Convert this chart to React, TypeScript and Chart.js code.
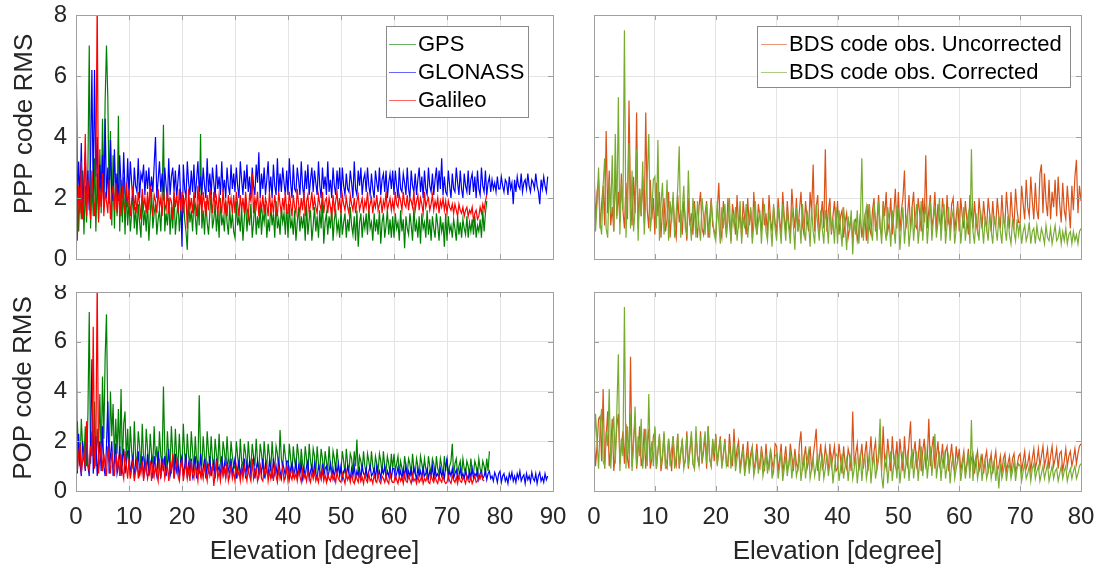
import React, { useEffect, useRef } from "react";
import { Chart, registerables } from "chart.js";

Chart.register(...registerables);

// Elevation sampling of every series below [degree]; value i sits at elevation i * STEP.
const STEP = 0.25;

// ---------- PPP code RMS (top left) ----------
// GPS, 0 .. 77.5 deg
const pppGps = [
  1.4,2.6,0.9,2.2,1.3, 2.9,0.8,2.4,1.2,3.0, 7.0,1.0,2.5,1.4,3.3, 0.9,2.8,1.3,3.6,1.5, 4.6,2.2,5.2,7.0,5.3, 2.0,4.2,1.1,3.4,1.0, 2.8,1.4,4.7,0.9,2.6, 1.2,2.7,0.8,2.3,1.1,
  1.9,0.9,1.5,2.2,1.0, 1.7,0.8,1.8,1.2,0.7, 2.1,1.1,1.6,0.9,1.9, 0.6,1.4,2.3,1.0,1.5, 1.8,0.8,1.3,1.6,0.9, 2.0,4.4,0.9,1.5,1.1, 2.0,0.8,1.7,1.0,2.2, 0.8,1.4,1.9,0.9,1.6,
  1.0,2.1,1.3,0.9,0.3, 1.9,1.2,1.6,0.9,2.0, 1.4,0.8,1.8,1.1,4.1, 1.0,1.6,0.8,1.9,1.2, 0.8,1.5,2.2,1.0,1.3, 1.8,0.9,1.6,0.7,2.0, 1.1,1.4,0.9,1.9,1.2, 0.8,1.7,1.0,1.5,0.9,
  0.7,1.9,1.1,1.4,0.9, 1.7,0.6,1.3,2.0,0.9, 1.5,1.1,1.8,0.7,1.2, 1.9,0.8,1.4,1.0,1.7, 0.8,1.5,1.2,1.8,0.7, 1.3,0.9,1.8,1.1,1.5, 0.7,1.9,1.0,1.3,0.8, 1.7,1.2,1.5,0.8,1.8,
  0.7,1.8,1.0,1.3,0.8, 1.6,0.6,1.2,1.7,0.9, 1.4,1.0,1.5,0.6,1.8, 0.8,1.3,1.6,0.6,1.1, 1.7,0.9,1.4,0.7,1.6, 1.0,1.9,0.5,1.2,1.5, 0.8,1.4,1.0,1.7,0.6, 1.3,1.6,0.9,1.2,0.7,
  1.6,0.8,1.2,1.5,0.7, 1.3,0.9,1.7,1.1,0.8, 1.4,0.6,1.6,0.4,1.2, 1.5,0.7,1.3,1.0,1.5, 0.8,1.7,1.0,1.2,0.6, 1.5,0.9,1.3,0.8,1.6, 0.5,1.2,1.5,0.7,1.1, 1.6,0.8,1.3,0.7,1.4,
  0.7,1.5,1.0,1.2,0.6, 1.6,0.9,1.3,0.35,1.4, 1.0,0.8,1.5,1.1,0.6, 1.7,0.9,1.2,0.7,1.4, 0.5,1.5,1.0,1.2,0.7, 1.6,0.8,1.3,0.6,1.4, 1.0,0.7,1.5,1.1,0.6, 1.4,0.9,1.2,0.4,1.5,
  0.6,1.4,0.9,1.1,0.7, 1.3,1.0,0.6,1.4,0.8, 1.2,0.7,1.3,1.0,0.8, 1.4,0.7,1.2,0.9,1.3, 0.8,1.4,0.7,1.1,0.9, 1.3,0.7,1.6,0.9,1.5, 1.9,
];
// GLONASS, 0 .. 89 deg
const pppGlonass = [
  8.0,1.6,3.2,2.0,3.8, 1.5,2.6,3.5,1.8,2.9, 1.6,3.3,6.2,2.0,6.2, 2.7,4.0,1.6,3.1,2.2, 3.4,1.7,4.6,2.0,3.0, 1.8,3.9,2.3,1.9,3.6, 2.1,2.8,1.9,3.4,2.4, 2.0,3.5,2.2,1.9,3.3,
  2.1,3.2,2.5,1.9,3.0, 2.4,2.2,3.3,2.0,2.8, 2.6,3.1,2.1,2.9,2.3, 3.0,2.1,2.7,2.2,3.1, 4.0,2.0,2.6,3.2,2.2, 2.8,2.1,3.0,2.4,1.9, 3.3,2.1,2.7,3.0,2.2, 2.9,2.0,2.6,3.1,2.0,
  0.4,3.1,2.3,2.0,3.2, 2.5,2.1,2.9,2.2,3.1, 2.0,2.6,3.2,2.2,2.7, 2.1,3.0,2.4,2.0,3.3, 2.2,2.8,2.1,3.0,2.5, 2.0,3.1,2.3,2.7,2.1, 3.2,2.2,2.6,2.0,3.0, 2.4,2.1,3.1,2.3,2.8,
  2.2,3.0,2.4,2.0,3.2, 2.6,2.1,2.9,2.3,3.1, 2.2,2.7,2.0,3.0,2.4, 2.1,3.1,2.5,3.5,2.0, 2.8,2.3,3.0,2.1,2.6, 3.2,2.2,2.7,2.0,3.1, 2.4,2.1,3.3,2.2,2.8, 2.2,3.0,2.5,2.1,2.9,
  2.1,3.3,2.5,2.0,3.1, 2.3,2.2,3.0,2.6,2.1, 3.2,2.4,2.0,2.9,2.3, 3.1,2.1,2.6,3.0,2.2, 2.9,2.5,2.1,3.2,2.4, 2.0,3.0,2.3,2.7,2.1, 3.2,2.2,2.6,2.0,3.0, 2.4,2.1,2.9,2.3,3.0,
  2.0,3.0,2.4,2.1,2.8, 2.3,2.2,2.9,2.5,2.0, 3.2,2.3,2.1,2.9,2.4, 3.0,2.1,2.6,2.8,2.2, 3.0,2.4,2.1,2.8,2.3, 2.0,2.9,2.5,2.2,3.0, 2.1,2.6,2.8,2.2,2.9, 2.0,2.5,2.8,2.3,2.9,
  2.1,2.9,2.4,2.0,3.0, 2.3,2.2,2.8,2.5,2.1, 3.0,2.3,2.0,2.9,2.4, 2.2,2.8,2.1,2.6,3.0, 2.2,2.7,2.0,2.9,2.3, 2.1,3.0,2.4,2.2,2.8, 2.1,2.6,3.0,2.2,2.9, 2.3,3.3,2.1,2.7,2.2,
  2.1,2.9,2.4,2.0,2.8, 2.3,2.2,3.0,2.5,2.1, 2.9,2.3,2.0,2.8,2.4, 2.2,2.9,2.1,2.6,2.8, 2.2,2.7,2.0,2.9,2.3, 2.1,3.0,2.4,2.2,2.9, 2.1,2.5,2.7,2.2,2.6, 2.3,2.5,2.2,2.7,2.3,
  2.3,2.7,2.4,2.2,2.6, 2.5,2.1,2.7,2.3,2.5, 1.8,2.6,2.2,2.7,2.4, 2.3,2.8,2.2,2.5,2.6, 2.3,2.8,2.4,2.2,2.6, 2.5,2.3,2.8,2.4,2.2, 1.8,2.6,2.3,2.7,2.4, 2.2,2.7,
];
// Galileo, 0 .. 77.5 deg
const pppGalileo = [
  7.5,0.6,2.4,1.5,3.2, 1.3,2.0,4.1,1.4,2.6, 1.8,1.3,2.9,2.1,1.4, 2.5,8.6,1.2,2.3,1.7, 2.8,1.4,2.2,1.9,1.5, 2.6,1.3,2.1,2.4,1.6, 2.5,1.5,2.0,2.3,1.4, 2.4,1.8,1.5,2.5,1.7,
  2.3,1.4,1.9,2.4,1.6, 2.1,1.5,2.2,1.8,1.3, 2.3,1.7,2.0,1.5,2.2, 1.6,2.4,1.8,1.4,2.1, 1.9,1.5,2.3,1.7,2.0, 1.4,2.2,1.8,1.6,2.3, 1.5,2.0,1.9,1.3,2.2, 1.7,2.1,1.5,2.3,1.6,
  2.2,1.5,1.9,2.1,1.0, 2.3,1.6,2.0,1.5,2.2, 1.8,1.4,2.4,1.7,2.0, 1.5,2.2,1.8,1.4,2.1, 1.6,2.3,1.9,1.5,2.2, 1.7,2.0,1.4,2.1,1.8, 1.5,2.3,1.6,1.9,1.4, 2.1,1.7,2.0,1.5,2.1,
  1.5,2.2,1.8,1.4,2.1, 1.6,2.0,1.5,2.2,1.7, 1.4,2.1,1.9,2.8,1.5, 2.0,1.7,2.2,1.4,1.9, 1.6,2.1,1.5,2.0,1.8, 1.4,2.2,1.6,1.9,1.5, 2.1,1.7,1.4,2.2,1.8, 1.5,2.0,1.6,2.2,1.5,
  1.5,2.2,1.8,1.4,2.1, 1.7,1.5,2.3,1.8,1.5, 2.0,1.6,2.2,1.4,1.9, 2.1,1.5,1.8,2.2,1.6, 2.0,1.7,1.5,2.1,1.8, 1.6,2.2,1.5,1.9,2.0, 1.5,2.0,1.7,1.4,2.1, 1.6,1.9,2.2,1.6,2.0,
  1.5,2.1,1.8,1.6,2.0, 1.7,1.5,2.1,1.8,1.6, 2.0,1.5,1.9,2.1,1.6, 1.8,2.0,1.5,1.9,1.7, 2.2,1.6,1.8,2.0,1.5, 1.9,1.7,2.1,1.6,1.8, 2.0,1.5,1.9,1.7,2.2, 1.6,1.8,2.0,1.6,1.9,
  1.6,2.2,1.8,1.7,2.1, 1.9,1.6,2.2,1.8,1.7, 2.1,1.6,2.0,1.9,1.7, 2.2,1.6,1.9,2.1,1.6, 2.0,1.8,1.5,2.2,1.7, 1.9,2.0,1.6,1.8,2.1, 1.6,1.9,1.7,2.0,1.5, 1.9,1.7,2.0,1.6,1.9,
  1.5,1.9,1.7,1.6,1.8, 1.5,1.8,1.6,1.4,1.8, 1.6,1.5,1.7,1.4,1.6, 1.7,1.4,1.6,1.5,1.7, 1.25,1.5,1.6,1.3,1.4, 1.7,1.5,1.8,1.6,1.9, 2.1,
];

// ---------- POP code RMS (bottom left) ----------
// GPS, 0 .. 78 deg
const popGps = [
  1.1,2.8,1.5,1.0,2.9, 1.8,1.2,2.6,1.0,3.1, 7.2,1.1,2.4,1.4,3.6, 1.0,2.5,1.6,3.9,1.2, 4.6,2.1,5.4,7.1,3.0, 1.2,4.0,2.2,3.5,1.1, 2.9,1.5,3.3,1.3,4.1, 1.0,2.7,3.2,1.2,2.5,
  1.0,2.6,1.6,0.9,2.8, 1.4,1.1,2.4,1.8,0.8, 2.7,1.3,1.0,2.5,1.7, 0.9,2.3,1.5,1.1,2.6, 1.2,1.8,0.9,2.4,1.4, 1.1,4.2,1.6,0.9,2.4, 1.3,1.0,2.6,1.5,0.9, 2.5,1.4,1.1,2.3,1.2,
  1.0,2.7,1.5,0.9,2.3, 1.4,1.0,2.4,1.6,0.8, 2.2,1.3,0.9,3.85,1.5, 1.0,2.2,1.4,0.9,2.4, 1.6,1.0,2.2,1.3,0.8, 2.1,1.5,1.0,2.3,1.2, 0.9,2.0,1.6,1.0,2.2, 1.3,0.9,2.0,1.4,1.0,
  0.9,2.0,1.4,0.8,2.1, 1.2,1.0,1.9,1.5,0.8, 2.0,1.3,0.9,1.9,1.4, 1.0,2.1,1.2,0.8,1.9, 1.5,0.9,2.0,1.3,1.0, 1.9,1.4,0.8,2.0,1.2, 0.9,1.8,1.5,0.8,2.45, 1.3,0.9,1.9,1.4,1.0,
  0.8,1.9,1.3,0.7,1.8, 1.2,0.9,1.9,1.4,0.7, 1.7,1.1,0.8,1.8,1.3, 0.7,1.9,1.2,0.8,1.7, 1.4,0.7,1.8,1.1,0.8, 1.7,1.3,0.7,1.6,1.2, 0.8,1.8,1.0,0.7,1.6, 1.3,0.8,1.7,1.1,0.7,
  0.8,1.6,1.2,0.7,1.7, 1.1,0.8,1.5,1.3,0.7, 1.6,1.0,2.07,0.7,1.4, 1.2,0.8,1.6,1.0,0.7, 1.5,1.2,0.8,1.6,1.0, 0.7,1.4,1.1,0.8,1.5, 1.2,0.7,1.6,1.0,0.8, 1.4,1.1,0.7,1.5,0.9,
  1.5,0.8,1.1,1.4,0.7, 1.2,0.9,0.6,1.4,1.0, 0.7,1.3,1.1,0.6,1.5, 0.9,0.7,1.3,1.0,0.6, 1.4,1.1,0.7,1.3,0.9, 0.6,1.4,1.0,0.7,1.3, 1.1,0.6,1.4,0.9,0.7, 1.3,1.0,0.6,1.4,0.8,
  1.3,0.7,1.0,1.2,1.9, 0.6,1.1,1.3,0.7,1.0, 1.2,0.6,1.3,0.9,0.7, 1.2,1.0,0.6,1.3,0.8, 0.7,1.2,1.0,0.6,1.3, 0.9,0.7,1.2,1.0,0.7, 1.3,0.8,1.6,
];
// GLONASS, 0 .. 89 deg
const popGlonass = [
  1.6,0.7,2.3,1.1,0.6, 2.0,1.4,0.8,2.4,1.0, 0.6,1.9,5.3,0.7,1.5, 2.2,0.6,1.3,2.0,0.8, 2.6,1.0,0.6,1.8,3.6, 0.7,1.4,2.0,0.6,1.2, 1.9,0.7,1.0,1.8,0.6, 1.3,1.7,0.7,1.1,1.6,
  1.6,0.6,1.1,1.4,0.5, 1.2,0.9,1.6,0.7,1.0, 1.4,0.5,1.2,0.8,1.5, 0.6,1.0,1.3,0.5,1.4, 0.9,0.6,1.6,1.0,0.5, 1.3,0.8,1.4,0.6,1.1, 1.7,0.6,0.9,1.3,0.5, 1.5,0.8,1.1,0.5,1.2,
  1.4,0.6,1.0,1.5,0.5, 1.1,0.8,1.3,0.6,1.0, 1.4,0.5,1.2,0.7,1.5, 0.6,0.9,1.3,0.5,1.1, 0.8,1.4,0.6,1.0,1.2, 0.5,1.3,0.8,1.0,0.6, 1.4,0.7,1.1,0.5,1.2, 0.9,0.6,1.3,0.7,1.0,
  1.3,0.5,0.9,1.2,0.6, 1.0,0.7,1.3,0.5,1.1, 0.8,1.2,0.6,1.0,1.3, 0.5,0.9,1.2,0.6,1.0, 0.7,1.3,0.5,1.1,0.8, 0.6,1.2,0.9,0.5,1.3, 0.7,1.0,0.6,1.2,0.8, 0.5,1.1,0.9,0.6,1.2,
  1.2,0.5,0.9,1.1,0.6, 0.8,1.2,0.5,1.0,0.7, 1.1,0.5,0.9,0.6,1.0, 1.2,0.5,0.8,1.0,0.6, 1.1,0.7,0.5,1.0,0.8, 0.5,1.1,0.6,0.9,1.0, 0.5,0.8,1.1,0.6,0.9, 0.5,1.0,0.7,1.1,0.6,
  1.0,0.5,0.8,0.9,0.6, 1.0,0.7,0.5,0.9,0.6, 1.0,0.5,0.8,0.6,0.9, 0.5,1.0,0.7,0.6,0.9, 0.5,0.8,1.0,0.6,0.7, 0.9,0.5,1.0,0.6,0.8, 0.5,0.9,0.7,1.0,0.5, 0.8,0.6,0.9,0.5,0.9,
  0.9,0.5,0.7,0.95,0.6, 0.8,0.5,0.9,0.6,1.0, 0.5,0.8,0.6,0.9,0.5, 0.95,0.7,0.5,0.9,0.6, 0.8,0.5,0.95,0.6,0.7, 0.9,0.5,0.8,0.6,1.0, 0.5,0.9,0.6,0.7,0.5, 0.9,0.6,0.8,0.5,1.0,
  1.3,0.5,0.8,0.6,0.9, 0.5,0.7,0.85,0.5,0.6, 0.9,0.55,0.7,0.5,0.85, 0.6,0.5,0.8,0.55,0.9, 0.5,0.7,0.6,0.85,0.45, 0.7,0.8,0.5,0.6,0.85, 0.45,0.7,0.8,0.5,0.6, 0.4,0.75,0.6,0.35,0.7,
  0.8,0.35,0.6,0.7,0.4, 0.55,0.3,0.7,0.5,0.75, 0.4,0.6,0.35,0.7,0.5, 0.8,0.4,0.55,0.65,0.3, 0.7,0.45,0.6,0.35,0.75, 0.5,0.4,0.7,0.3,0.6, 0.75,0.4,0.55,0.35,0.7, 0.45,0.6,
];
// Galileo, 0 .. 77 deg
const popGalileo = [
  8.6,0.8,1.5,1.9,0.7, 1.2,1.6,0.9,2.8,1.1, 0.8,1.8,1.4,6.6,0.9, 1.7,8.6,0.7,1.3,1.9, 0.8,1.5,1.0,0.6,1.8, 1.2,0.7,1.6,1.0,0.6, 1.5,0.9,1.3,0.6,1.5, 0.8,0.5,1.6,1.0,0.5,
  1.3,0.5,0.9,1.2,0.4, 0.8,1.3,0.5,1.0,0.7, 1.2,0.4,0.9,1.1,0.5, 0.8,1.2,0.4,1.0,0.6, 1.1,0.7,0.4,1.3,0.6, 0.9,1.2,0.5,0.8,1.0, 0.4,1.2,0.7,1.5,0.5, 0.9,1.2,0.6,0.4,1.1,
  1.2,0.4,0.8,1.1,0.5, 0.9,0.4,1.2,0.7,0.5, 1.0,0.8,0.4,1.1,0.6, 0.9,0.5,1.0,0.7,0.4, 1.1,0.6,0.8,1.0,0.2, 0.7,1.1,0.5,0.8,0.4, 1.0,0.6,0.9,0.5,1.1, 0.4,0.7,1.0,0.5,0.8,
  0.4,1.0,0.6,0.8,0.4, 0.9,0.5,1.0,0.7,0.4, 0.9,0.6,0.4,1.3,0.5, 0.8,0.9,0.4,0.7,1.0, 0.5,0.4,0.9,0.6,1.0, 0.4,0.8,0.5,0.9,0.4, 1.0,0.6,0.35,0.9,0.5, 0.7,0.95,0.4,0.6,0.9,
  0.4,0.9,0.6,0.45,0.85, 0.5,0.7,0.4,0.8,0.6, 0.35,0.85,0.5,0.7,0.4, 0.8,0.55,0.35,0.75,0.5, 0.8,0.4,0.6,0.35,0.75, 0.5,0.8,0.4,0.65,0.35, 0.7,0.5,0.4,0.75,0.45, 0.6,0.35,0.75,0.5,0.4,
  0.35,0.7,0.5,0.3,0.75, 0.45,0.6,0.35,0.7,0.4, 0.3,0.65,0.5,0.35,0.7, 0.4,0.55,0.3,0.65,0.45, 0.35,0.7,0.4,0.5,0.3, 0.65,0.45,0.35,0.7,0.4, 0.3,0.6,0.5,0.35,0.65, 0.4,0.3,0.7,0.45,0.35,
  0.35,0.65,0.45,0.3,0.6, 0.4,0.55,0.3,0.65,0.4, 0.35,0.6,0.45,0.3,0.65, 0.4,0.5,0.3,0.6,0.35, 0.45,0.65,0.3,0.5,0.4, 0.6,0.35,0.3,0.65,0.45, 0.35,0.6,0.4,0.3,0.6, 0.45,0.35,0.6,0.4,0.3,
  0.35,0.6,0.4,0.3,0.6, 0.45,0.35,0.55,0.3,0.6, 0.4,0.35,0.55,0.45,0.3, 0.6,0.4,0.35,0.55,0.3, 0.45,0.6,0.35,0.4,0.6, 0.5,0.7,0.45,0.4,
];

// ---------- BDS, PPP (top right), 0 .. 80 deg ----------
const pppBdsUncorrected = [
  3.1,1.2,2.2,2.6,1.0, 1.8,2.4,1.1,4.2,1.5, 2.9,1.1,1.7,0.9,3.0, 1.4,2.2,1.2,2.8,1.6, 1.0,2.5,1.3,5.2,1.9, 1.1,2.7,1.5,4.8,1.0, 2.3,1.4,2.7,1.2,4.8, 1.6,1.0,2.6,1.3,2.0,
  0.8,2.5,1.4,2.2,0.7, 1.6,2.0,0.9,1.3,2.2, 0.7,1.5,2.0,1.0,0.7, 2.1,1.2,1.6,0.8,1.9, 1.3,0.6,2.0,1.1,1.5, 0.8,1.9,1.2,0.7,1.7, 2.2,1.0,0.8,1.5,1.9, 0.7,1.3,2.0,1.1,0.9,
  0.8,1.6,2.5,1.0,0.7, 1.9,1.3,0.8,2.0,1.2, 0.6,1.8,1.4,0.8,2.1, 1.0,1.6,0.7,1.9,1.3, 0.8,2.0,1.1,1.6,0.7, 2.2,1.2,0.8,1.8,1.4, 0.9,2.0,1.1,1.5,0.8, 2.1,1.3,0.9,1.7,1.2,
  0.9,2.0,1.3,0.8,2.2, 1.4,0.9,1.9,1.2,0.8, 2.3,1.5,1.0,2.0,0.9, 1.6,2.2,1.1,0.8,1.9, 1.3,0.9,2.2,1.5,3.1, 0.9,1.7,2.1,0.8,1.3, 1.9,1.0,3.6,0.9,1.6, 2.0,0.8,1.4,1.9,1.0,
  1.9,0.8,1.4,1.6,0.7, 1.2,1.5,0.7,1.0,1.4, 0.6,1.2,1.3,0.6,0.9, 1.5,0.7,1.1,1.4,0.6, 1.8,1.0,0.8,1.6,2.0, 0.9,1.3,2.1,1.0,0.8, 1.9,1.4,2.2,0.9,1.2, 2.0,0.8,1.5,2.3,1.0,
  2.2,0.9,1.6,2.0,2.9, 1.0,1.4,2.1,0.9,1.7, 2.2,1.1,1.0,2.0,1.5, 0.9,2.0,1.2,3.4,1.0, 1.6,2.1,1.0,1.4,2.2, 0.9,1.8,1.3,1.0,2.0, 1.5,0.9,2.1,1.2,1.0, 1.8,2.0,0.9,1.4,1.9,
  0.9,2.0,1.4,1.0,1.9, 1.3,0.8,2.1,1.5,1.0, 1.9,1.2,0.9,2.0,1.4, 1.0,1.9,1.3,1.0,2.0, 1.5,0.9,1.9,1.2,1.1, 2.0,1.4,1.0,2.1,1.3, 1.1,2.2,1.5,1.0,2.2, 1.4,1.1,2.3,1.6,1.2,
  1.2,2.4,1.8,1.3,2.6, 1.7,1.4,2.7,1.9,1.3, 2.5,1.6,1.3,2.8,3.1, 1.5,2.8,1.9,1.4,2.6, 1.3,2.2,1.7,2.6,1.4, 2.7,1.8,1.2,2.5,1.6, 1.3,2.4,1.7,1.0,2.4, 1.6,2.7,3.25,1.5,2.4,
  1.9,
];
const pppBdsCorrected = [
  2.2,0.9,1.8,3.0,1.2, 0.8,2.4,3.3,1.0,0.7, 2.6,1.5,3.4,0.9,4.1, 1.3,5.3,0.8,2.5,1.6, 7.5,0.7,2.2,3.8,1.0, 2.9,0.9,1.6,3.6,0.6, 2.3,1.4,3.2,0.8,1.9, 2.7,4.1,0.9,1.5,2.6,
  2.7,1.0,3.9,0.6,1.8, 2.5,0.8,1.4,2.6,0.6, 1.9,1.2,2.2,0.7,1.5, 2.3,3.7,0.7,1.6,2.4, 1.0,0.8,2.9,1.3,0.6, 2.0,1.5,0.7,1.9,1.1, 0.6,2.0,1.4,0.8,1.8, 1.2,0.7,1.9,1.3,0.8,
  0.6,1.9,1.2,0.5,1.7, 1.0,1.8,0.7,1.3,2.0, 0.5,1.5,1.1,1.7,0.6, 1.2,1.9,0.5,1.4,1.0, 1.8,0.7,1.3,1.7,0.5, 1.1,1.9,0.8,1.2,1.6, 0.5,1.4,1.8,0.9,0.6, 1.6,1.1,0.4,1.8,1.0,
  0.6,1.7,1.1,0.5,1.8, 1.2,0.6,1.6,1.0,0.5, 1.7,1.1,0.3,1.7,0.9, 1.3,0.5,1.8,1.0,0.6, 1.6,1.2,0.4,1.7,0.9, 0.5,1.8,1.1,0.6,1.6, 1.0,0.5,1.6,1.2,0.5, 1.7,0.9,1.3,0.5,1.7,
  0.5,1.6,1.0,0.4,1.7, 1.1,0.3,1.4,0.9,1.6, 0.15,1.3,0.8,1.6,0.5, 1.2,3.3,0.6,1.4,1.7, 0.5,1.8,1.0,0.6,1.8, 1.3,0.6,1.9,1.1,0.5, 1.8,1.0,0.6,1.7,1.2, 0.4,1.6,1.0,0.5,1.7,
  1.6,0.3,1.1,1.7,0.5, 1.2,1.5,0.4,1.0,1.7, 0.6,1.3,1.8,0.5,1.1, 1.9,0.6,1.4,1.7,0.5, 1.2,1.9,0.6,1.3,1.7, 0.7,1.2,2.0,0.6,1.4, 1.8,0.5,1.1,1.7,0.6, 1.3,1.6,0.5,1.0,1.7,
  1.6,0.5,1.1,1.7,0.6, 1.2,1.5,0.5,3.6,0.9, 0.5,1.5,1.0,0.6,1.6, 1.1,0.5,1.4,1.0,0.6, 1.5,0.9,0.5,1.4,1.0, 0.6,1.4,0.9,0.5,1.5, 1.0,0.6,1.4,0.8,0.5, 1.3,0.9,0.6,1.3,0.8,
  1.2,0.5,0.9,1.1,0.6, 0.8,1.2,0.5,0.9,1.0, 0.5,1.1,0.7,0.6,1.0, 0.8,0.5,1.1,0.7,0.6, 1.0,0.5,0.8,1.1,0.6, 0.7,1.0,0.5,0.9,0.6, 1.0,0.5,0.8,0.9,0.5, 0.9,0.6,0.8,0.5,0.9,
  1.0,
];

// ---------- BDS, POP (bottom right), 0 .. 80 deg ----------
const popBdsUncorrected = [
  2.4,1.0,1.8,2.9,3.0, 1.2,4.1,0.9,2.2,3.2, 1.0,1.7,2.9,0.8,1.5, 2.6,3.1,1.1,1.8,2.4, 1.1,2.7,1.3,0.9,5.4, 1.0,2.1,2.8,0.9,1.6, 2.6,1.0,1.4,2.5,0.9, 1.9,2.5,0.9,1.3,2.2,
  2.4,0.9,1.6,2.2,0.8, 1.3,2.3,1.0,0.9,2.1, 1.5,0.8,2.2,1.2,1.0, 2.3,0.9,1.5,2.1,1.0, 1.2,2.4,0.9,1.6,2.2, 1.1,0.9,2.3,1.4,1.0, 2.4,1.1,1.6,2.2,0.9, 2.6,1.3,1.0,2.0,1.2,
  2.3,1.1,1.7,2.2,1.0, 1.5,2.1,1.1,1.0,2.3, 1.4,1.0,2.5,1.1,1.7, 2.0,0.9,1.4,1.9,0.8, 1.3,2.0,0.9,1.5,1.8, 0.8,1.2,1.9,1.0,0.9, 1.8,1.3,0.8,1.9,1.1, 0.9,1.7,1.2,0.8,1.9,
  1.8,0.8,1.3,1.9,0.7, 1.2,1.8,0.9,1.0,1.9, 1.4,0.8,1.7,1.1,0.9, 1.9,2.4,0.8,1.3,1.8, 0.9,1.2,1.8,0.8,1.4, 1.9,2.5,0.8,1.3,1.9, 0.9,1.1,1.8,1.3,0.8, 1.9,1.0,1.4,1.8,0.8,
  0.9,1.9,1.3,0.7,1.8, 1.1,0.9,1.7,1.4,0.8, 3.2,1.0,1.5,1.9,0.8, 1.3,1.9,0.9,1.5,2.0, 0.8,1.4,2.2,1.0,1.6, 2.0,0.9,1.3,2.1,0.8, 2.6,1.2,0.9,2.1,1.4, 0.8,2.2,1.3,1.0,2.0,
  0.9,2.1,1.4,0.8,2.2, 1.2,1.0,2.0,2.8,0.9, 1.5,2.0,1.0,1.3,2.1, 0.8,1.6,2.1,1.0,1.3, 2.9,1.0,1.7,2.2,0.9, 1.4,2.0,1.0,1.2,1.9, 0.9,1.6,1.8,0.8,1.3, 1.9,1.0,0.8,1.8,1.2,
  1.7,0.8,1.2,1.6,0.7, 1.1,1.7,0.8,1.3,1.5, 0.7,1.2,1.6,0.8,1.0, 1.5,0.7,1.3,1.6,0.8, 1.1,1.5,0.7,1.2,1.6, 0.8,1.0,1.4,0.7,1.3, 1.5,0.8,1.1,1.4,0.7, 1.3,1.5,0.8,1.0,1.4,
  1.5,0.8,1.2,1.6,0.9, 1.1,1.5,0.8,1.3,1.7, 0.9,1.2,1.7,1.0,1.4, 1.8,1.0,1.3,1.7,0.9, 1.4,1.8,1.0,1.3,1.7, 0.9,1.5,1.6,0.8,1.2, 1.7,1.0,1.4,1.6,1.0, 1.3,1.7,1.1,1.5,1.8,
  1.9,
];
const popBdsCorrected = [
  1.5,3.1,2.0,0.9,2.6, 3.3,1.2,1.0,2.4,1.8, 4.1,0.9,2.2,3.0,1.1, 3.2,5.5,0.8,2.1,1.4, 7.4,0.9,2.6,1.5,3.1, 0.8,1.9,3.4,1.0,2.2, 1.4,2.9,0.9,1.7,2.5, 1.0,3.9,1.2,2.0,1.0,
  2.6,0.9,1.6,2.3,1.0, 1.5,2.4,0.9,1.3,2.1, 1.0,1.7,2.2,0.9,1.4, 2.3,1.0,1.6,2.0,0.9, 1.3,2.2,1.0,1.7,2.4, 1.1,0.9,2.6,1.4,1.0, 2.2,1.2,1.8,2.4,1.1, 2.6,1.3,1.0,2.1,1.5,
  2.2,1.0,1.6,2.1,0.9, 1.4,2.0,1.0,1.2,1.9, 0.9,1.5,2.0,0.8,1.3, 1.8,0.7,1.2,1.7,0.6, 1.1,1.6,0.7,1.3,1.7, 0.6,1.0,1.5,0.7,1.2, 1.6,0.6,1.0,1.5,0.7, 1.2,1.6,0.5,1.0,1.4,
  1.5,0.5,1.0,1.6,0.4, 0.9,1.4,0.6,1.1,1.5, 0.5,1.2,1.4,0.6,0.9, 1.5,0.4,1.0,1.4,0.5, 1.2,1.6,0.5,0.9,1.3, 0.6,1.0,1.5,0.4,1.1, 1.4,0.5,0.9,1.5,0.6, 1.1,1.4,0.3,0.9,1.5,
  1.4,0.4,0.9,1.5,0.5, 1.0,1.3,0.4,1.1,1.5, 0.5,0.9,1.4,0.3,1.0, 1.5,0.4,1.2,1.4,0.5, 0.9,1.6,0.3,1.1,1.4, 0.5,1.0,1.5,2.9,0.6, 0.1,1.2,1.5,0.3,1.0, 1.6,0.4,1.1,1.5,0.5,
  1.5,0.3,1.0,1.6,0.5, 1.1,1.5,0.4,1.2,1.7, 0.5,1.1,1.6,0.4,1.2, 1.8,0.6,1.3,1.7,0.5, 1.2,1.8,0.6,1.4,2.3, 0.5,1.1,1.6,0.4,1.2, 1.5,0.5,1.0,1.4,0.3, 1.1,1.4,0.5,0.9,1.3,
  1.4,0.4,0.9,1.5,0.5, 1.0,1.4,0.5,2.85,0.4, 1.1,1.4,0.5,0.9,1.3, 0.4,1.0,1.2,0.5,0.8, 1.3,0.5,0.9,1.2,0.4, 1.0,0.1,1.1,0.5,0.8, 1.2,0.4,0.9,1.1,0.5, 0.8,1.2,0.4,0.9,1.1,
  1.0,0.4,0.8,1.1,0.5, 0.7,1.0,0.4,0.9,1.1, 0.5,0.8,1.0,0.4,0.7, 1.0,0.5,0.8,1.1,0.4, 0.7,1.0,0.5,0.8,0.9, 0.4,0.7,1.0,0.5,0.8, 1.0,0.4,0.7,0.9,0.5, 0.8,1.0,0.5,0.7,1.0,
  1.1,
];

// ---------- axes / labels ----------
const xMaxLeft = 90;
const xMaxRight = 80;
const xStep = 10;
const yMin = 0;
const yMax = 8;
const yStep = 2;
const xTitle = "Elevation [degree]";
const yTitleTop = "PPP code RMS";
const yTitleBottom = "POP code RMS";
const labelsLeft = ["GPS", "GLONASS", "Galileo"];
const labelsRight = ["BDS code obs. Uncorrected", "BDS code obs. Corrected"];

const FONT = "'Liberation Sans', Arial, Helvetica, sans-serif";
const TEXT = "#262626";
const GRID = "#e4e4e4";
const FRAME = "#a0a0a0";
const C_GPS = "#008000";
const C_GLO = "#0000ff";
const C_GAL = "#ff0000";
const C_UNC = "#d95319";
const C_COR = "#77ac30";

type Series = { label: string; color: string; values: number[]; order: number };
type LegendSpec = { box: [number, number, number, number]; lineX: [number, number]; textX: number; rowsY: number[] };
type PanelProps = {
  left: number; top: number; width: number; height: number;
  padTop: number; padRight: number; yAxisWidth: number; xAxisHeight: number;
  xMax: number; showX: boolean; showY: boolean; series: Series[];
  yTitle?: { text: string; x: number; y: number };
  legend?: LegendSpec;
};

function toPoints(values: number[]) {
  return values.map((y, i) => ({ x: i * STEP, y }));
}

function Panel(p: PanelProps) {
  const ref = useRef<HTMLCanvasElement | null>(null);
  useEffect(() => {
    const canvas = ref.current;
    if (!canvas) return;
    const decor = {
      id: "decor",
      afterDatasetsDraw(chart: any) {
        const ctx = chart.ctx as CanvasRenderingContext2D;
        const a = chart.chartArea;
        const xs = chart.scales.x;
        const ys = chart.scales.y;
        ctx.save();
        // inward tick marks
        ctx.strokeStyle = FRAME;
        ctx.lineWidth = 1;
        ctx.beginPath();
        for (let v = 0; v <= p.xMax; v += xStep) {
          const px = Math.round(xs.getPixelForValue(v)) + 0.5;
          ctx.moveTo(px, a.bottom); ctx.lineTo(px, a.bottom - 5);
          ctx.moveTo(px, a.top); ctx.lineTo(px, a.top + 5);
        }
        for (let v = yMin; v <= yMax; v += yStep) {
          const py = Math.round(ys.getPixelForValue(v)) + 0.5;
          ctx.moveTo(a.left, py); ctx.lineTo(a.left + 5, py);
          ctx.moveTo(a.right, py); ctx.lineTo(a.right - 5, py);
        }
        ctx.stroke();
        // frame
        ctx.strokeRect(Math.round(a.left) + 0.5, Math.round(a.top) + 0.5,
          Math.round(a.right - a.left), Math.round(a.bottom - a.top));
        // legend
        if (p.legend) {
          const L = p.legend;
          ctx.fillStyle = "#ffffff";
          ctx.fillRect(L.box[0], L.box[1], L.box[2], L.box[3]);
          ctx.strokeStyle = "#8a8a8a";
          ctx.strokeRect(L.box[0] + 0.5, L.box[1] + 0.5, L.box[2], L.box[3]);
          ctx.font = `22px ${FONT}`;
          ctx.textBaseline = "middle";
          ctx.textAlign = "left";
          p.series.forEach((s, i) => {
            const y = L.rowsY[i];
            ctx.strokeStyle = s.color;
            ctx.globalAlpha = 0.6;
            ctx.beginPath();
            ctx.moveTo(L.lineX[0], y + 0.5); ctx.lineTo(L.lineX[1], y + 0.5);
            ctx.stroke();
            ctx.globalAlpha = 1;
            ctx.fillStyle = "#000000";
            ctx.fillText(s.label, L.textX, y + 1);
          });
        }
        // y title
        if (p.yTitle) {
          ctx.fillStyle = TEXT;
          ctx.font = `26px ${FONT}`;
          ctx.textAlign = "center";
          ctx.textBaseline = "middle";
          ctx.translate(p.yTitle.x, p.yTitle.y);
          ctx.rotate(-Math.PI / 2);
          ctx.fillText(p.yTitle.text, 0, 0);
        }
        ctx.restore();
      },
    };
    const chart = new Chart(canvas, {
      type: "line",
      data: {
        datasets: p.series.map((s) => ({
          label: s.label,
          data: toPoints(s.values),
          borderColor: s.color,
          backgroundColor: s.color,
          borderWidth: 1.2,
          pointRadius: 0,
          tension: 0,
          fill: false,
          order: s.order,
        })),
      },
      options: {
        responsive: false,
        animation: false,
        events: [],
        layout: { padding: { left: 0, top: p.padTop, right: p.padRight, bottom: 0 } },
        plugins: { legend: { display: false }, tooltip: { enabled: false } },
        scales: {
          x: {
            type: "linear",
            min: 0,
            max: p.xMax,
            grid: { color: GRID, drawTicks: false, lineWidth: 1 },
            border: { display: false },
            ticks: {
              display: p.showX, stepSize: xStep, autoSkip: false, maxRotation: 0,
              font: { family: FONT, size: 24 }, color: TEXT, padding: 12,
            },
            title: {
              display: p.showX, text: xTitle, color: TEXT,
              font: { family: FONT, size: 26 }, padding: { top: 0, bottom: 3 },
            },
            afterFit: (s: any) => { s.height = p.xAxisHeight; s.paddingLeft = 0; s.paddingRight = 0; },
          },
          y: {
            type: "linear",
            min: yMin,
            max: yMax,
            grid: { color: GRID, drawTicks: false, lineWidth: 1 },
            border: { display: false },
            ticks: {
              display: p.showY, stepSize: yStep,
              font: { family: FONT, size: 24 }, color: TEXT, padding: 9,
            },
            afterFit: (s: any) => { s.width = p.yAxisWidth; s.paddingTop = 0; s.paddingBottom = 0; },
          },
        },
      } as any,
      plugins: [decor],
    });
    return () => chart.destroy();
  }, []);
  return (
    <canvas
      ref={ref}
      width={p.width}
      height={p.height}
      style={{ position: "absolute", left: p.left, top: p.top, width: p.width, height: p.height, display: "block" }}
    />
  );
}

export default function App() {
  const leftTop: Series[] = [
    { label: labelsLeft[0], color: C_GPS, values: pppGps, order: 2 },
    { label: labelsLeft[1], color: C_GLO, values: pppGlonass, order: 1 },
    { label: labelsLeft[2], color: C_GAL, values: pppGalileo, order: 0 },
  ];
  const leftBottom: Series[] = [
    { label: labelsLeft[0], color: C_GPS, values: popGps, order: 2 },
    { label: labelsLeft[1], color: C_GLO, values: popGlonass, order: 1 },
    { label: labelsLeft[2], color: C_GAL, values: popGalileo, order: 0 },
  ];
  const rightTop: Series[] = [
    { label: labelsRight[0], color: C_UNC, values: pppBdsUncorrected, order: 1 },
    { label: labelsRight[1], color: C_COR, values: pppBdsCorrected, order: 0 },
  ];
  const rightBottom: Series[] = [
    { label: labelsRight[0], color: C_UNC, values: popBdsUncorrected, order: 1 },
    { label: labelsRight[1], color: C_COR, values: popBdsCorrected, order: 0 },
  ];
  return (
    <div style={{ position: "absolute", left: 0, top: 0, width: 1100, height: 570, background: "#ffffff", overflow: "hidden" }}>
      <Panel left={0} top={0} width={575} height={285} padTop={15} padRight={22} yAxisWidth={76} xAxisHeight={26}
        xMax={xMaxLeft} showX={false} showY={true} series={leftTop}
        yTitle={{ text: yTitleTop, x: 25, y: 124 }}
        legend={{ box: [386, 26, 142, 91], lineX: [389, 416], textX: 418, rowsY: [44, 72, 100] }} />
      <Panel left={575} top={0} width={525} height={285} padTop={15} padRight={19} yAxisWidth={19} xAxisHeight={26}
        xMax={xMaxRight} showX={false} showY={false} series={rightTop}
        legend={{ box: [182, 26, 313, 61], lineX: [186, 212], textX: 214, rowsY: [44, 72] }} />
      <Panel left={0} top={285} width={575} height={285} padTop={7} padRight={22} yAxisWidth={76} xAxisHeight={79}
        xMax={xMaxLeft} showX={true} showY={true} series={leftBottom}
        yTitle={{ text: yTitleBottom, x: 24, y: 103 }} />
      <Panel left={575} top={285} width={525} height={285} padTop={7} padRight={19} yAxisWidth={19} xAxisHeight={79}
        xMax={xMaxRight} showX={true} showY={false} series={rightBottom} />
    </div>
  );
}
